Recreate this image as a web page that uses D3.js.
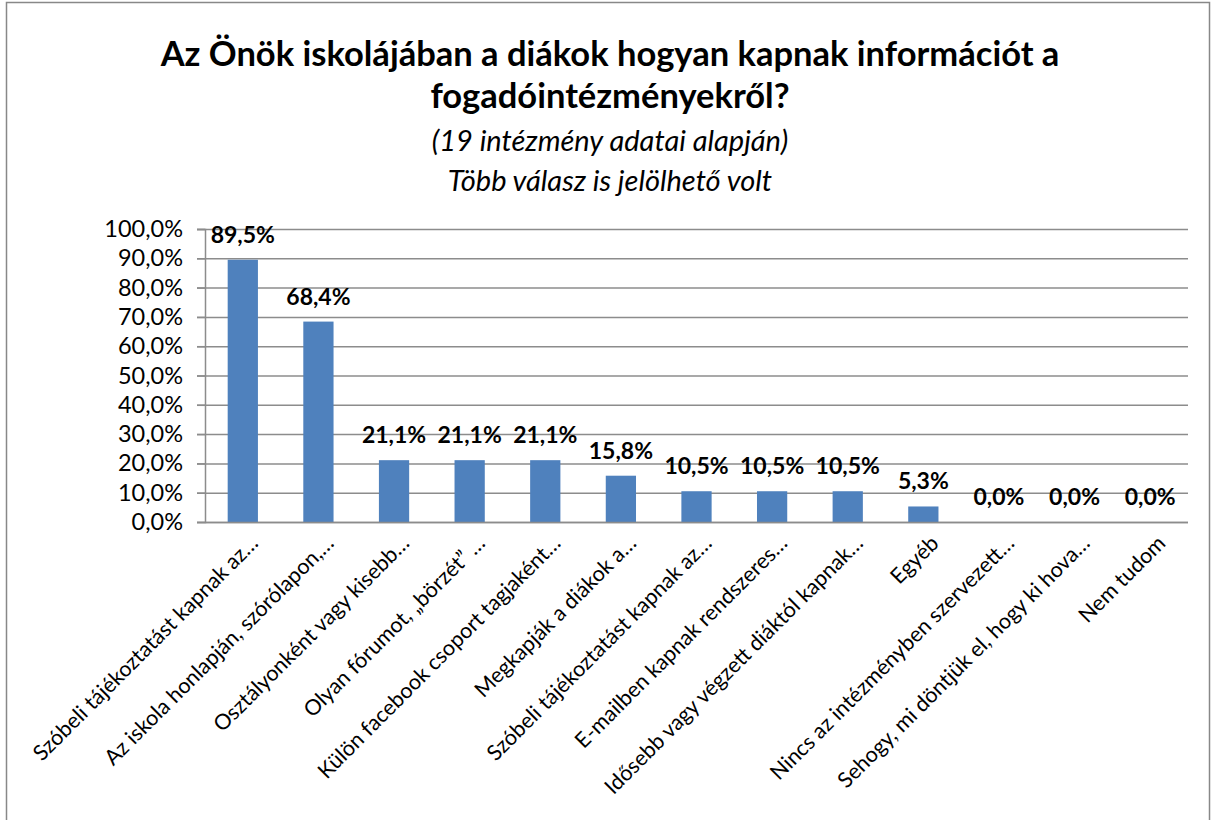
<!DOCTYPE html>
<html>
<head>
<meta charset="utf-8">
<script src="https://cdn.jsdelivr.net/npm/d3@7"></script>
<style>
  body { margin: 0; background: #fff; }
  svg { font-family: Lato, "Open Sans", sans-serif; }
</style>
</head>
<body>
<svg id="chart" width="1212" height="820"></svg>
<script>
// chart data
const categories = [
    "Szóbeli tájékoztatást kapnak az…",
    "Az iskola honlapján, szórólapon,…",
    "Osztályonként vagy kisebb…",
    "Olyan fórumot, „börzét” …",
    "Külön facebook csoport tagjaként…",
    "Megkapják a diákok a…",
    "Szóbeli tájékoztatást kapnak az…",
    "E-mailben kapnak rendszeres…",
    "Idősebb vagy végzett diáktól kapnak…",
    "Egyéb",
    "Nincs az intézményben szervezett…",
    "Sehogy, mi döntjük el, hogy ki hova…",
    "Nem tudom"
];
const values = [89.5, 68.4, 21.1, 21.1, 21.1, 15.8, 10.5, 10.5, 10.5, 5.3, 0, 0, 0];
const yTicks = [0, 10, 20, 30, 40, 50, 60, 70, 80, 90, 100];
const titleLines = ["Az Önök iskolájában a diákok hogyan kapnak információt a", "fogadóintézményekről?"];
const subtitleLines = ["(19 intézmény adatai alapján)", "Több válasz is jelölhető volt"];

const svg = d3.select("#chart");
const fmt = v => v.toFixed(1).replace(".", ",") + "%";

// outer border
svg.append("rect").attr("x", 6.5).attr("y", 2.5).attr("width", 1203).attr("height", 830)
    .attr("fill", "none").attr("stroke", "#888").attr("stroke-width", 1.5);

// title
svg.append("g").selectAll("text").data(titleLines).enter().append("text")
    .attr("x", 610).attr("y", (d, i) => 66 + i * 42)
    .attr("text-anchor", "middle").attr("font-size", 34.5).attr("font-weight", "bold")
    .text(d => d);
svg.append("g").selectAll("text").data(subtitleLines).enter().append("text")
    .attr("x", 610).attr("y", (d, i) => 151 + i * 40)
    .attr("text-anchor", "middle").attr("font-size", 29).attr("font-style", "italic")
    .text(d => d);

const margin = {left: 205, right: 1188, top: 229, bottom: 522};

let x = d3.scaleBand().domain(d3.range(categories.length))
    .range([margin.left, margin.right]).paddingInner(0.6).paddingOuter(0.3);
let y = d3.scaleLinear().domain([0, 100]).range([margin.bottom, margin.top]);

// grid lines
svg.append("g").selectAll("line").data(yTicks).enter().append("line")
    .attr("x1", margin.left - 8).attr("x2", margin.right)
    .attr("y1", d => y(d) + 0.5).attr("y2", d => y(d) + 0.5)
    .attr("stroke", "#8c8c8c").attr("stroke-width", 1.5);

// y axis
let yAxis = svg.append("g").attr("transform", "translate(" + margin.left + ",0)")
    .call(d3.axisLeft(y).tickValues(yTicks).tickFormat(fmt).tickSize(8).tickPadding(14));
yAxis.select(".domain").attr("stroke", "#8c8c8c").attr("stroke-width", 1.5);
yAxis.selectAll(".tick line").attr("stroke", "#8c8c8c").attr("stroke-width", 1.5);
yAxis.selectAll(".tick text").attr("font-size", 23.5).attr("fill", "#000")
    .attr("font-family", "Lato, sans-serif");

// bars
svg.append("g").selectAll("rect").data(values).enter().append("rect")
    .attr("x", (d, i) => x(i))
    .attr("y", d => y(d))
    .attr("width", x.bandwidth())
    .attr("height", d => y(0) - y(d))
    .attr("fill", "#4f81bd");

// value labels
svg.append("g").selectAll("text").data(values).enter().append("text")
    .attr("x", (d, i) => x(i) + x.bandwidth() / 2)
    .attr("y", d => y(d) - 17)
    .attr("text-anchor", "middle").attr("font-size", 23).attr("font-weight", "bold")
    .text(fmt);

// x axis line
svg.append("line").attr("x1", margin.left).attr("x2", margin.right)
    .attr("y1", y(0) + 0.5).attr("y2", y(0) + 0.5)
    .attr("stroke", "#8c8c8c").attr("stroke-width", 1.5);

// category labels
svg.append("g").selectAll("text").data(categories).enter().append("text")
    .attr("transform", (d, i) => "translate(" + (x(i) + x.bandwidth() / 2 + 6) + "," + (y(0) + 12) + ") rotate(-45)")
    .attr("text-anchor", "end").attr("dy", "0.7em").attr("font-size", 21.5)
    .text(d => d);
</script>
</body>
</html>
